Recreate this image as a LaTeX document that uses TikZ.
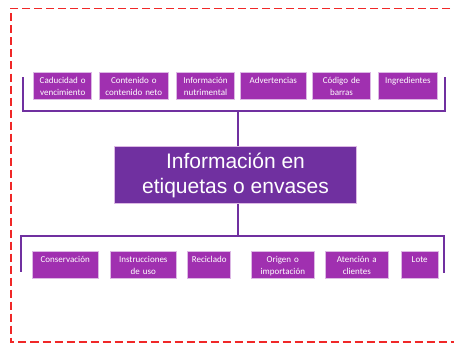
\documentclass[tikz,border=0pt]{standalone}
\usepackage{fontspec}
\newfontfamily\calibri{Carlito}
\newfontfamily\arial{Liberation Sans}
\definecolor{morado}{HTML}{7030A0}
\definecolor{lila}{HTML}{A030B0}
\definecolor{borde}{HTML}{DCB8E4}
\definecolor{rojo}{HTML}{F02828}
\tikzset{
  etq/.style={draw=borde, line width=0.8pt, fill=lila, text=white,
    font=\calibri\fontsize{9}{11.7}\selectfont, align=center,
    inner xsep=0pt, inner ysep=3pt, text height=8pt, text depth=13pt,
    minimum width=#1pt, text width=#1pt},
  centro/.style={draw=borde, line width=0.8pt, fill=morado, text=white,
    font=\arial\fontsize{21}{25}\selectfont, align=center,
    minimum width=242pt, minimum height=56.6pt},
  llave/.style={draw=morado, line width=2.2pt}
}
\begin{document}
\begin{tikzpicture}[x=1pt, y=-1pt]
    \useasboundingbox (0,0) rectangle (454,345);

    % marco rojo
    \draw[rojo, line width=1.5pt, dash pattern=on 8pt off 4pt] (462,8.5) -- (11,8.5) -- (11,342) -- (462,342);

    % cuadro central
    \node[centro] (info) at (235.5,175) {Información en\\etiquetas o envases};

    % fila de arriba
    \foreach \x/\w/\t [count=\i] in {62.7/58/{Caducidad o\\vencimiento}, 133.8/69.7/{Contenido o\\contenido neto},
        205.5/58.4/{Información\\nutrimental}, 273.3/65.3/{Advertencias}, 341.5/58.4/{Código de\\barras},
        407.8/58.3/{Ingredientes}}
        \node[etq=\w] (s\i) at (\x,85.8) {\t};

    % fila de abajo
    \foreach \x/\w/\t [count=\i] in {65.2/65.7/{Conservación}, 143.3/66/{Instrucciones\\de uso},
        209.2/43/{Reciclado}, 282.8/63.7/{Origen o\\importación}, 356.8/63.7/{Atención a\\clientes},
        419.7/36.7/{Lote}}
        \node[etq=\w] (i\i) at (\x,265.2) {\t};

    % llaves
    \coordinate (tl) at (23.3,77);
    \coordinate (tr) at (445,77);
    \coordinate (tbar) at (238.3,111.3);
    \draw[llave] (tl) -- (tl |- tbar) -- (tr |- tbar) -- (tr);
    \draw[llave] (tbar) -- (tbar |- info.north);

    \coordinate (bl) at (21.3,271.7);
    \coordinate (br) at (443.7,273);
    \coordinate (bbar) at (238.3,235.7);
    \draw[llave] (bl) -- (bl |- bbar) -- (br |- bbar) -- (br);
    \draw[llave] (bbar) -- (bbar |- info.south);

\end{tikzpicture}
\end{document}
